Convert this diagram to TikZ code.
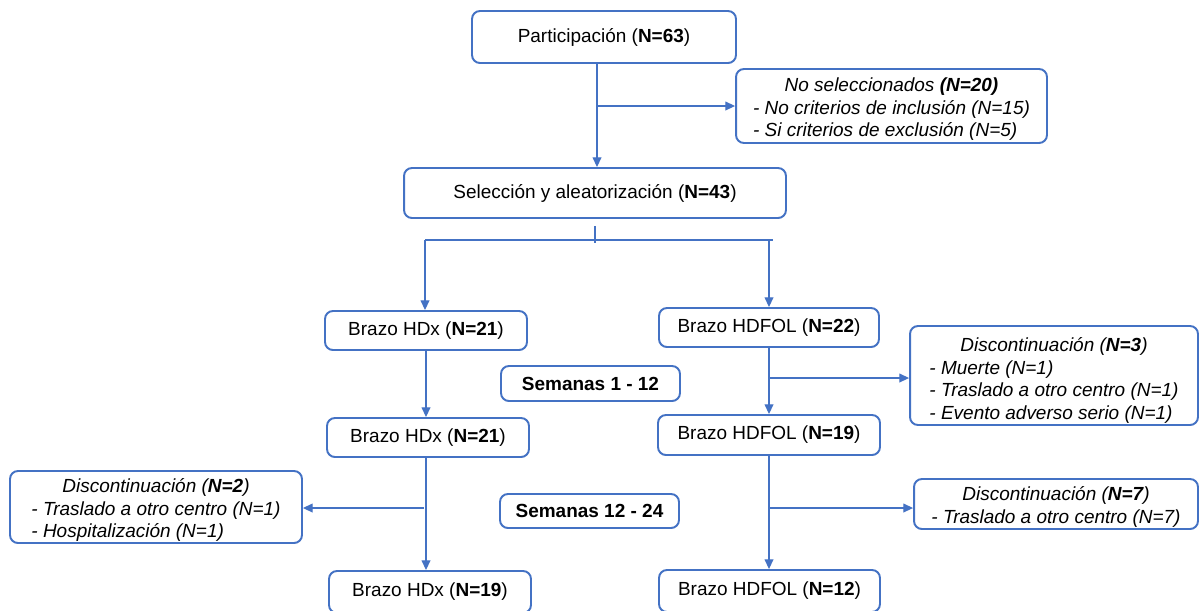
\documentclass[tikz,border=0pt]{standalone}
\usepackage{fontspec}
\setmainfont{Liberation Sans}
\usetikzlibrary{calc,arrows.meta}
\definecolor{boxblue}{HTML}{4472C4}
% lowers a text block inside its box while keeping its reported size
\newcommand{\lowerby}[2]{\raisebox{-#1}[\height][\depth]{#2}}
\begin{document}
\begin{tikzpicture}[x=0.02cm,y=-0.02cm,
  box/.style={draw=boxblue,line width=1.1pt,rounded corners=4.5pt,fill=white,
    inner sep=0pt,align=center,font=\fontsize{10.8}{12.8}\selectfont},
  wire/.style={draw=boxblue,line width=0.65pt},
  arr/.style={wire,-{Triangle[length=5.5pt,width=5pt]}}]
\useasboundingbox (0,0) rectangle (1200,610);

% main flow boxes
\node[box,minimum width=5.28cm,minimum height=1.04cm] (P) at (604,37) {Participación (\textbf{N=63})};
\node[box,minimum width=6.22cm,minimum height=1.48cm] (NS) at (891.5,106)
  {\lowerby{2pt}{\itshape\begin{tabular}{@{}l@{}}\multicolumn{1}{@{}c@{}}{No seleccionados \textbf{(N=20)}}\\
   - No criterios de inclusión (N=15)\\ - Si criterios de exclusión (N=5)\end{tabular}}};
\node[box,minimum width=7.64cm,minimum height=1.0cm] (S) at (595,193) {Selección y aleatorización (\textbf{N=43})};

% arm boxes
\node[box,minimum width=4.04cm,minimum height=0.78cm] (X1) at (426,330.5) {Brazo HDx (\textbf{N=21})};
\node[box,minimum width=4.4cm,minimum height=0.78cm] (F1) at (769,327.5) {Brazo HDFOL (\textbf{N=22})};
\node[box,minimum width=4.04cm,minimum height=0.78cm] (X2) at (428,437.5) {Brazo HDx (\textbf{N=21})};
\node[box,minimum width=4.44cm,minimum height=0.8cm] (F2) at (769,435) {Brazo HDFOL (\textbf{N=19})};
\node[box,minimum width=4.04cm,minimum height=0.84cm] (X3) at (430,592) {Brazo HDx (\textbf{N=19})};
\node[box,minimum width=4.42cm,minimum height=0.84cm] (F3) at (769.5,591) {Brazo HDFOL (\textbf{N=12})};

% period labels
\node[box,minimum width=3.58cm,minimum height=0.7cm,font=\fontsize{10.8}{12.8}\selectfont\bfseries] (W1) at (590.5,383.5) {Semanas 1 - 12};
\node[box,minimum width=3.58cm,minimum height=0.68cm,font=\fontsize{10.8}{12.8}\selectfont\bfseries] (W2) at (589.5,511) {Semanas 12 - 24};

% discontinuation boxes
\node[box,minimum width=5.76cm,minimum height=1.98cm] (D3) at (1054,375.5)
  {\lowerby{3pt}{\itshape\begin{tabular}{@{}l@{}}\multicolumn{1}{@{}c@{}}{Discontinuación (\textbf{N=3})}\\
   - Muerte (N=1)\\ - Traslado a otro centro (N=1)\\ - Evento adverso serio (N=1)\end{tabular}}};
\node[box,minimum width=5.84cm,minimum height=1.44cm] (D2) at (156,507)
  {\lowerby{2pt}{\itshape\begin{tabular}{@{}l@{}}\multicolumn{1}{@{}c@{}}{Discontinuación (\textbf{N=2})}\\
   - Traslado a otro centro (N=1)\\ - Hospitalización (N=1)\end{tabular}}};
\node[box,minimum width=5.68cm,minimum height=1.0cm] (D7) at (1056,504)
  {\lowerby{2pt}{\itshape\begin{tabular}{@{}l@{}}\multicolumn{1}{@{}c@{}}{Discontinuación (\textbf{N=7})}\\
   - Traslado a otro centro (N=7)\end{tabular}}};

% enrolment and exclusion
\coordinate (top) at ([xshift=-0.14cm]P.south);
\draw[arr] (top) -- (top |- S.north);
\draw[arr] (top |- NS.west) -- (NS.west);

% randomisation split
\coordinate (sp) at ($(S.south)+(0,21)$);
\draw[wire] ($(S.south)+(0,7)$) -- ($(S.south)+(0,24)$);
\draw[wire] ($(sp -| X1.north)+(-1,0)$) -- ($(sp -| F1.north)+(4,0)$);
\draw[arr] ($(sp -| X1.north)+(-1,0)$) -- ($(X1.north)+(-1,0)$);
\draw[arr] (sp -| F1.north) -- (F1.north);

% weeks 1-12
\draw[arr] (X1.south) -- (X1.south |- X2.north);
\draw[arr] (F1.south) -- (F2.north);
\draw[arr] ($(F1.south |- D3.west)+(0,2.5)$) -- ($(D3.west)+(0,2.5)$);

% weeks 12-24
\draw[arr] ($(X2.south)+(-2,0)$) -- ($(X2.south |- X3.north)+(-2,0)$);
\draw[arr] ($(X2.south |- D2.east)+(-4,1)$) -- ($(D2.east)+(0,1)$);
\draw[arr] (F2.south) -- (F2.south |- F3.north);
\draw[arr] ($(F2.south |- D7.west)+(0,4)$) -- ($(D7.west)+(0,4)$);
\end{tikzpicture}
\end{document}
